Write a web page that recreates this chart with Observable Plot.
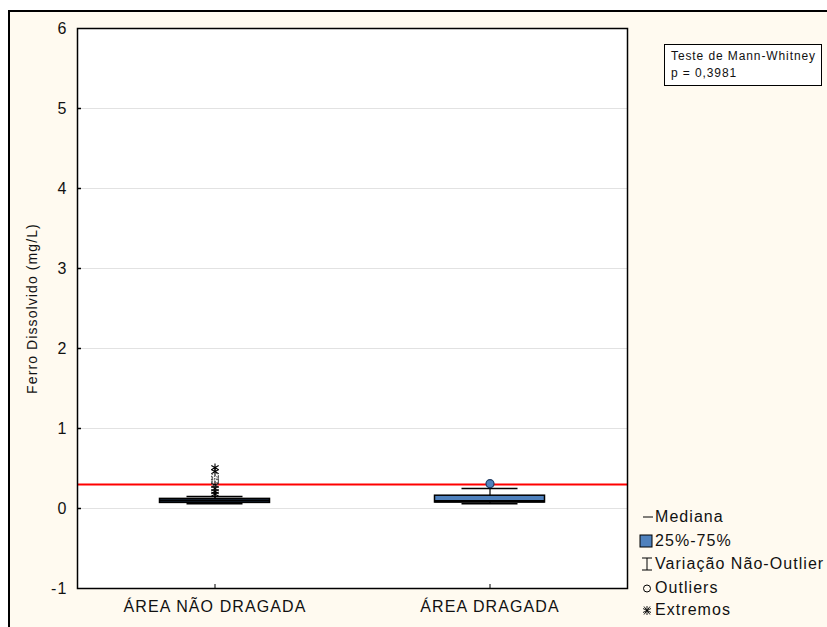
<!DOCTYPE html>
<html>
<head>
<meta charset="utf-8">
<script src="https://cdn.jsdelivr.net/npm/d3@7"></script>
<script src="https://cdn.jsdelivr.net/npm/@observablehq/plot@0.6"></script>
<style>
  html, body { margin: 0; padding: 0; background: #ffffff; width: 827px; height: 627px; overflow: hidden; }
  #page { position: absolute; left: 8px; top: 10px; width: 830px; height: 630px; background: #fffaf0;
          border-top: 2px solid #000; border-left: 2px solid #000; }
  #chart { position: absolute; left: 0; top: 0; }
  #chart svg { font-family: "Liberation Sans", Arial, sans-serif !important; font-size: 16px !important; letter-spacing: 1.1px; }
  .lg { position: absolute; font-family: "Liberation Sans", Arial, sans-serif; font-size: 16px; letter-spacing: 1.05px;
        color: #111; white-space: nowrap; }
  .lg svg { position: absolute; left: 0; top: 0; }
  .lg span { position: absolute; left: 16px; top: 0; line-height: 20px; }
  #mw { position: absolute; left: 664px; top: 44px; width: 156px; height: 40px; background: #fff;
        border: 1.5px solid #000; font-family: "Liberation Sans", Arial, sans-serif; font-size: 12px; letter-spacing: 0.9px; color: #111; }
  #mw div { position: absolute; left: 6px; white-space: nowrap; }
</style>
</head>
<body>
<div id="page"></div>
<div id="chart"></div>
<div id="mw"><div style="top:4px">Teste de Mann-Whitney</div><div style="top:21px">p = 0,3981</div></div>
<div id="legend"></div>
<script>
const categories = ["ÁREA NÃO DRAGADA", "ÁREA DRAGADA"];
const medians = [0.10, 0.09];
const q1s = [0.07, 0.075];
const q3s = [0.12, 0.16];
const whiskerLow = [0.06, 0.06];
const whiskerHigh = [0.15, 0.25];
const outlierCat = [0, 0, 0, 1];
const outlierVal = [0.40, 0.36, 0.33, 0.31];
const extremeCat = [0, 0, 0, 0, 0, 0];
const extremeVal = [0.51, 0.46, 0.29, 0.25, 0.21, 0.18];
const yTicks = [-1, 0, 1, 2, 3, 4, 5, 6];
const referenceLine = 0.3;
const yLabel = "Ferro Dissolvido (mg/L)";
const legendLabels = ["Mediana", "25%-75%", "Variação Não-Outlier", "Outliers", "Extremos"];

const boxes = categories.map((c, i) => ({cat: c, med: medians[i], q1: q1s[i], q3: q3s[i], lo: whiskerLow[i], hi: whiskerHigh[i]}));
const outliers = outlierCat.map((c, i) => ({cat: categories[c], v: outlierVal[i], k: c}));
const extremes = extremeCat.map((c, i) => ({cat: categories[c], v: extremeVal[i]}));

const W = 827, H = 627, ML = 77, MR = 200, MT = 28, MB = 39;
const frameW = W - ML - MR;
const bandW = frameW / categories.length;
const boxInset = (bandW - 110) / 2;
const capInset = (bandW - 56) / 2;

const chart = Plot.plot({
  width: W, height: H,
  marginLeft: ML, marginRight: MR, marginTop: MT, marginBottom: MB,
  style: {background: "transparent", overflow: "visible"},
  x: {domain: categories, padding: 0, label: null},
  y: {domain: [-1, 6], label: null},
  marks: [
    Plot.frame({fill: "white"}),
    Plot.ruleY(yTicks.filter(d => d > -1 && d < 6), {stroke: "#e2e2e2", strokeWidth: 1}),
    Plot.ruleY(yTicks.filter(d => d > -1 && d < 6), {stroke: "#000", strokeWidth: 1.5, insetRight: frameW - 4}),
    Plot.ruleX(categories, {x: d => d, stroke: "#000", strokeWidth: 1, insetTop: (H - MT - MB) - 4}),
    Plot.ruleY([referenceLine], {stroke: "#ff0000", strokeWidth: 2}),
    Plot.ruleX(boxes, {x: "cat", y1: "lo", y2: "hi", stroke: "#000", strokeWidth: 1.2}),
    Plot.tickY(boxes, {x: "cat", y: "hi", stroke: "#000", strokeWidth: 1.5, insetLeft: capInset, insetRight: capInset}),
    Plot.tickY(boxes, {x: "cat", y: "lo", stroke: "#000", strokeWidth: 1.5, insetLeft: capInset, insetRight: capInset}),
    Plot.barY(boxes, {x: "cat", y1: "q1", y2: "q3", fill: "#4f81bd", stroke: "#000", strokeWidth: 1.5, insetLeft: boxInset, insetRight: boxInset}),
    Plot.tickY(boxes, {x: "cat", y: "med", stroke: "#000", strokeWidth: 2.5, insetLeft: boxInset, insetRight: boxInset}),
    Plot.dot(extremes, {x: "cat", y: "v", symbol: "asterisk", r: 4, stroke: "#000", strokeWidth: 1.1}),
    Plot.dot(outliers.filter(d => d.k === 0), {x: "cat", y: "v", r: 3.5, stroke: "#555", strokeWidth: 1.1, strokeDasharray: "1.5,1", fill: "none"}),
    Plot.dot(outliers.filter(d => d.k === 1), {x: "cat", y: "v", r: 4, stroke: "#1f3b63", strokeWidth: 1.2, fill: "#4f81bd"}),
    Plot.frame({stroke: "#000", strokeWidth: 1.5}),
    Plot.axisY({ticks: yTicks, tickSize: 0, tickPadding: 10, tickFormat: d => String(d), fill: "#111", label: null}),
    Plot.axisX({tickSize: 0, tickPadding: 12, fill: "#111", label: null}),
    Plot.text([yLabel], {frameAnchor: "left", textAnchor: "middle", dx: -45, rotate: -90, fontSize: 14, fill: "#111"})
  ]
});
document.getElementById("chart").appendChild(chart);

// Legend
const legend = document.getElementById("legend");
const centers = [517, 541, 564, 588, 610];
const icons = [
  '<line x1="4" y1="10" x2="14" y2="10" stroke="#000" stroke-width="1"/>',
  '<rect x="1" y="4" width="12" height="12" fill="#4f81bd" stroke="#000" stroke-width="1"/>',
  '<path d="M3,4 H13 M8,4 V16 M3,16 H13" stroke="#000" stroke-width="1" fill="none"/>',
  '<circle cx="8" cy="10.5" r="3.5" fill="none" stroke="#000" stroke-width="1"/>',
  '<path d="M8,6 V15 M4,8.5 L12,12.5 M4,12.5 L12,8.5 M5,6.5 L11,14.5 M11,6.5 L5,14.5" stroke="#000" stroke-width="0.9" fill="none"/>'
];
legendLabels.forEach((lab, i) => {
  const d = document.createElement("div");
  d.className = "lg";
  d.style.left = "639px";
  d.style.top = (centers[i] - 10) + "px";
  d.innerHTML = '<svg width="16" height="20">' + icons[i] + '</svg><span>' + lab + '</span>';
  legend.appendChild(d);
});
</script>
</body>
</html>
